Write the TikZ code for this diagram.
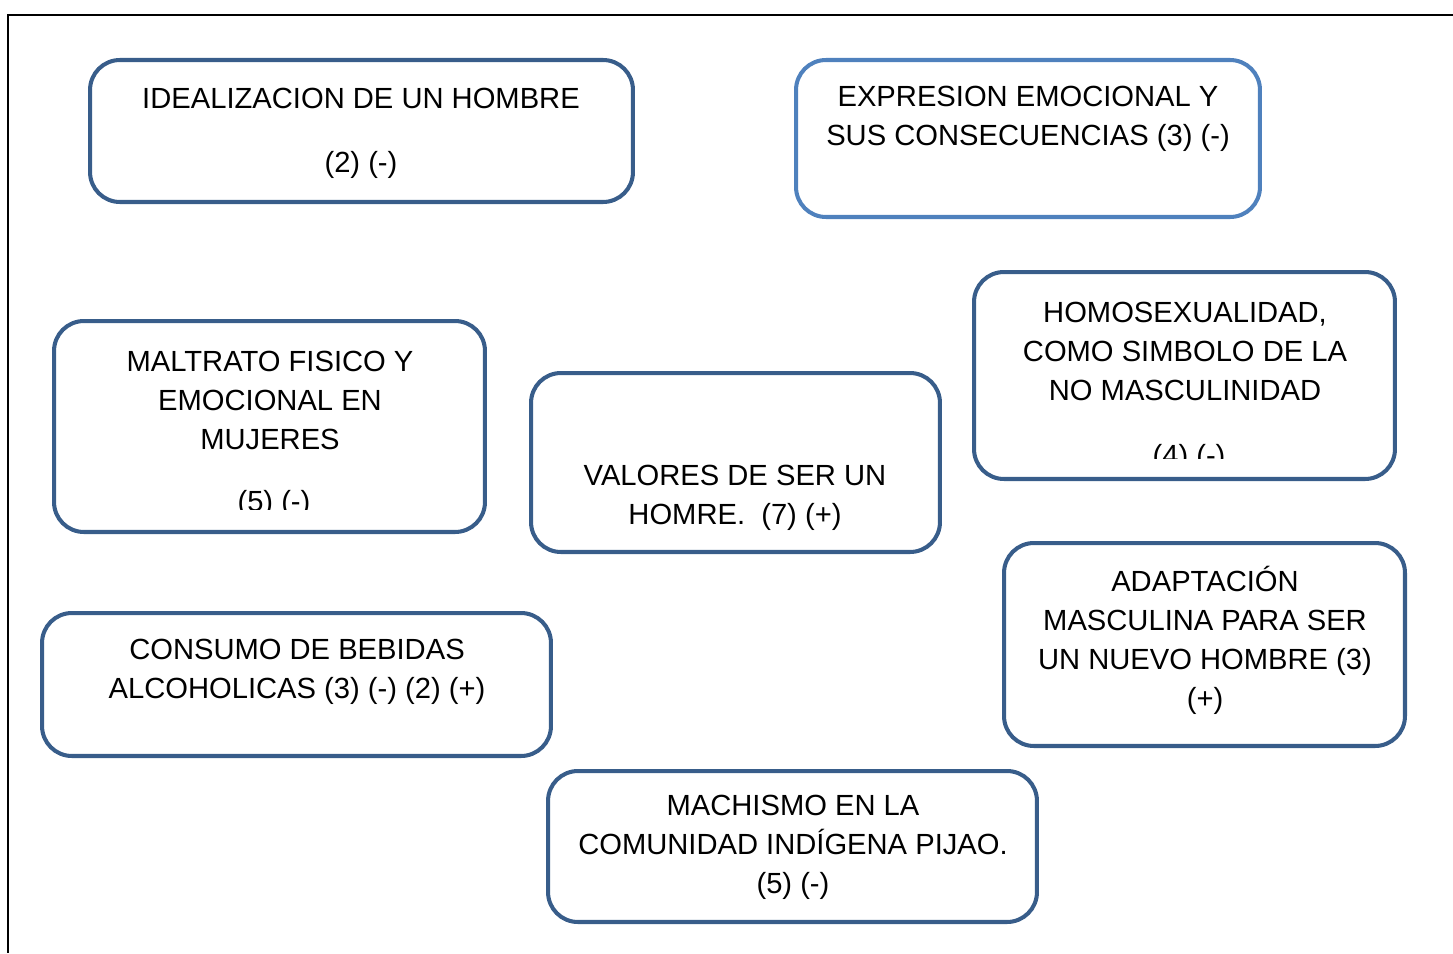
\documentclass[tikz,border=0pt]{standalone}
\usepackage{fontspec}
\setmainfont{Liberation Sans}
\usetikzlibrary{positioning}

\definecolor{boxblue}{RGB}{56,93,138}
\definecolor{lightblue}{RGB}{79,129,189}

\tikzset{
  card/.style={draw=boxblue, line width=2.3pt, rounded corners=17pt, inner sep=0pt},
  label/.style={align=center, inner sep=0pt, font=\fontsize{16.6}{22.2}\selectfont}
}

\begin{document}
\begin{tikzpicture}[x=0.02cm, y=-0.02cm]
			\useasboundingbox (0,0) rectangle (1453,953);
			\draw[line width=1.1pt] (1453,15) -- (8,15) -- (8,953);
			% boxes
			\node[card, minimum width=10.86cm, minimum height=2.84cm] (ideal) at (361.5,131) {};
			\node[card, draw=lightblue, minimum width=9.28cm, minimum height=3.14cm] (expres) at (1028,138.5) {};
			\node[card, minimum width=8.42cm, minimum height=4.14cm] (homo) at (1184.5,375.5) {};
			\node[card, minimum width=8.62cm, minimum height=4.22cm] (maltrato) at (269.5,426.5) {};
			\node[card, minimum width=8.18cm, minimum height=3.58cm] (valores) at (735.5,462.5) {};
			\node[card, minimum width=8.02cm, minimum height=4.06cm] (adapt) at (1204.5,644.5) {};
			\node[card, minimum width=10.18cm, minimum height=2.86cm] (consumo) at (296.5,684.5) {};
			\node[card, minimum width=9.78cm, minimum height=3.02cm] (machismo) at (792.5,846.5) {};
			% texts
			\node[label] (idealT) at (361,98) {IDEALIZACION DE UN HOMBRE};
			\node[label] (idealN) at (361,164.5) {(2) (-)};
			\node[label] (expresT) at (1028,119) {EXPRESION EMOCIONAL Y\\SUS CONSECUENCIAS (3) (-)};
			\node[label] (homoT) at (1185,351) {HOMOSEXUALIDAD,\\COMO SIMBOLO DE LA\\NO MASCULINIDAD};
			\node[label] (maltratoT) at (270,400) {MALTRATO FISICO Y\\EMOCIONAL EN\\MUJERES};
			\node[label] (valoresT) at (735,498) {VALORES DE SER UN\\HOMRE.\ \ (7) (+)};
			\node[label] (adaptT) at (1205,640) {ADAPTACIÓN\\MASCULINA PARA SER\\UN NUEVO HOMBRE (3)\\(+)};
			\node[label] (consumoT) at (297,671.5) {CONSUMO DE BEBIDAS\\ALCOHOLICAS (3) (-) (2) (+)};
			\node[label] (machismoT) at (793,847.5) {MACHISMO EN LA\\COMUNIDAD INDÍGENA PIJAO.\\(5) (-)};
			% cut off numbers
			\begin{scope}
				\clip (1000,430) rectangle (1380,458);
				\node[label] (homoN) at (1189,458) {(4) (-)};
			\end{scope}
			\begin{scope}
				\clip (80,480) rectangle (470,509);
				\node[label] (maltratoN) at (274,504) {(5) (-)};
			\end{scope}
		\end{tikzpicture}
\end{document}
